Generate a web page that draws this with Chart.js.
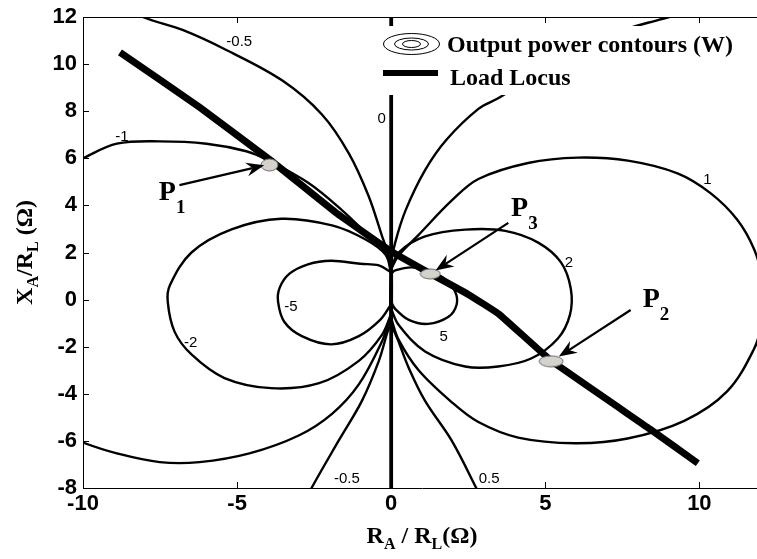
<!DOCTYPE html>
<html>
<head>
<meta charset="utf-8">
<script src="https://cdn.jsdelivr.net/npm/chart.js@4.4.1/dist/chart.umd.min.js"></script>
<style>
    html, body { margin: 0; padding: 0; background: #fff; overflow: hidden; }
    #wrap { width: 757px; height: 559px; overflow: hidden; }
</style>
</head>
<body>
<div id="wrap"><canvas id="chart" width="770" height="559"></canvas></div>
<script>
// axis ticks
const xTicks = [-10, -5, 0, 5, 10];
const yTicks = [-8, -6, -4, -2, 0, 2, 4, 6, 8, 10, 12];

// output power contours, traced as [R_A/R_L, X_A/R_L]
const contourLevels = ['-5', '-2', '-1', '-0.5', '0', '0.5', '1', '2', '5'];
const contourM5 = [[0,1.15],[-0.4,1.45],[-1.0,1.52],[-1.95,1.65],[-2.7,1.5],[-3.3,1.1],[-3.62,0.5],[-3.67,-0.1],[-3.47,-0.94],[-2.9,-1.55],[-1.95,-1.9],[-1.05,-1.55],[-0.35,-0.85],[0,-0.2]];
const contourM2 = [[0,1.1],[-0.18,1.9],[-0.83,2.55],[-1.92,3.15],[-3.57,3.43],[-5.18,2.98],[-6.48,2.0],[-7.18,0.61],[-7.25,-0.1],[-7.03,-1.36],[-6.48,-2.33],[-5.41,-3.33],[-3.9,-3.76],[-2.34,-3.55],[-1.05,-2.6],[-0.3,-1.5],[0,-0.6]];
const contourM1 = [[-10.6,5.6],[-10,6.0],[-8.9,6.62],[-7.51,6.72],[-5.99,6.62],[-4.7,6.3],[-4.0,5.92],[-2.67,4.94],[-1.6,3.8],[-0.73,2.71],[-0.18,2.0],[0,1.3],[0,-0.6],[-0.08,-0.94],[-0.3,-1.78],[-1.05,-3.6],[-1.92,-4.85],[-3.0,-5.77],[-4.6,-6.53],[-6.22,-6.9],[-7.51,-6.9],[-8.9,-6.53],[-10,-6.07],[-10.6,-5.7]];
const contourM05 = [[-9.2,12.8],[-8.06,12.0],[-6.77,11.45],[-5.35,10.6],[-3.53,9.3],[-2.24,7.85],[-1.37,6.2],[-0.73,4.39],[-0.3,2.71],[-0.08,1.87],[0,1.2],[0,-0.8],[-0.15,-1.5],[-0.4,-2.6],[-0.95,-4.3],[-1.7,-5.98],[-2.57,-7.97],[-2.75,-8.5]];
const contour0 = [[0,-8],[0,12]];
const contour05 = [[9.6,12.2],[8.6,11.85],[7.67,11.5],[6.6,10.9],[5.5,10.1],[4.5,9.4],[3.47,8.55],[2.83,8.1],[1.8,6.8],[1.1,5.5],[0.47,3.8],[0.13,2.42],[0,1.5],[0,-0.9],[0.24,-1.78],[0.57,-2.9],[1.1,-4.3],[1.96,-5.98],[2.76,-8.0],[2.9,-8.4]];
const contour1 = [[0,1.3],[0.24,1.87],[0.89,2.75],[1.96,4.2],[2.83,5.12],[4.44,5.8],[6.06,6.03],[7.68,5.9],[9.29,5.36],[10.36,4.52],[11.23,3.39],[11.78,2.13],[12.05,0.9],[12.1,0],[12.05,-0.9],[11.78,-2.08],[10.9,-3.9],[9.51,-5.15],[7.67,-5.9],[5.96,-6.1],[4.12,-5.86],[2.83,-5.2],[1.96,-4.35],[0.89,-3.0],[0.24,-1.7],[0,-0.8]];
const contour2 = [[0,1.3],[0.24,2.0],[1.1,2.68],[2.4,2.97],[3.7,2.92],[4.77,2.42],[5.51,1.58],[5.83,0.45],[5.8,-0.65],[5.41,-1.65],[4.54,-2.5],[3.47,-2.84],[2.4,-2.84],[1.1,-2.2],[0.24,-1.07],[0,-0.4]];
const contour5 = [[0,1.1],[0.13,1.24],[0.66,1.37],[1.2,1.24],[1.75,0.87],[2.08,0.32],[2.12,-0.23],[1.86,-0.73],[1.2,-1.03],[0.57,-0.86],[0.13,-0.39],[0,-0.1]];
const contourCurves = [contourM5, contourM2, contourM1, contourM05, contour0, contour05, contour1, contour2, contour5];

// inline contour labels
const contourLabels = ['-0.5', '-1', '0', '1', '2', '-5', '-2', '5', '-0.5', '0.5'];
const contourLabelAt = [[-4.93,10.95],[-8.74,6.9],[-0.31,7.67],[10.26,5.07],[5.77,1.54],[-3.25,-0.31],[-6.51,-1.82],[1.70,-1.57],[-1.44,-7.63],[3.18,-7.63]];

// load locus
const loadLocus = [[-8.8,10.5],[-6.2,8.15],[-3.9,5.9],[-1.8,3.7],[0,2.05],[1.28,1.1],[2.5,0.22],[3.5,-0.62],[5.2,-2.6],[8.4,-5.5],[9.95,-6.95]];

// operating points P1, P3, P2
const opNames = ['1', '3', '2'];
const opR = [-3.95, 1.27, 5.19];
const opX = [5.72, 1.09, -2.62];

// annotation arrows (tail -> head) and label anchors, data coords
const arrows = [
    { tail: [-6.87, 4.86], head: [-4.12, 5.70], label: [-7.54, 4.23] },
    { tail: [3.80, 3.26], head: [1.44, 1.24], label: [3.89, 3.55] },
    { tail: [7.77, -0.44], head: [5.44, -2.42], label: [8.16, -0.31] }
];

const SANS = 'Arial, "Liberation Sans", sans-serif';
const SERIF = '"Times New Roman", "Liberation Serif", serif';

function ellipseIcon(w, h) {
    const c = document.createElement('canvas');
    c.width = w + 2; c.height = h + 2;
    const g = c.getContext('2d');
    g.beginPath();
    g.ellipse(c.width / 2, c.height / 2, w / 2, h / 2, 0, 0, Math.PI * 2);
    g.fillStyle = '#d5d2cb';
    g.fill();
    g.strokeStyle = '#6a6a6a';
    g.lineWidth = 1;
    g.stroke();
    return c;
}
const opIcons = [ellipseIcon(17, 12), ellipseIcon(20, 10), ellipseIcon(24, 11)];

const toXY = pts => pts.map(p => ({ x: p[0], y: p[1] }));

const datasets = [];
datasets.push({
    label: 'points',
    data: opR.map((r, i) => ({ x: r, y: opX[i] })),
    pointStyle: opIcons,
    pointRadius: 8,
    showLine: false,
    order: 0
});
datasets.push({
    label: 'Load Locus',
    data: toXY(loadLocus),
    showLine: true,
    borderColor: '#000',
    borderWidth: 7,
    pointRadius: 0,
    tension: 0.1,
    clip: 0,
    order: 1
});
contourCurves.forEach((c, i) => {
    datasets.push({
        label: contourLevels[i],
        data: toXY(c),
        showLine: true,
        borderColor: '#000',
        borderWidth: contourLevels[i] === '0' ? 3.8 : 2.4,
        pointRadius: 0,
        tension: 0.35,
        clip: 0,
        order: 2
    });
});

function line(ctx, x0, y0, x1, y1) {
    ctx.beginPath(); ctx.moveTo(x0, y0); ctx.lineTo(x1, y1); ctx.stroke();
}

function drawArrow(ctx, x0, y0, x1, y1) {
    const ang = Math.atan2(y1 - y0, x1 - x0);
    const L = 18, W = 7, N = 12;
    ctx.lineWidth = 2.2;
    line(ctx, x0, y0, x1 - Math.cos(ang) * N, y1 - Math.sin(ang) * N);
    ctx.save();
    ctx.translate(x1, y1);
    ctx.rotate(ang);
    ctx.beginPath();
    ctx.moveTo(0, 0);
    ctx.lineTo(-L, -W);
    ctx.lineTo(-N, 0);
    ctx.lineTo(-L, W);
    ctx.closePath();
    ctx.fill();
    ctx.restore();
}

// text runs with subscripts: [text, size, dy]
function drawRuns(ctx, parts, x, y, center) {
    let total = 0;
    const widths = parts.map(p => {
        ctx.font = 'bold ' + p[1] + 'px ' + SERIF;
        const w = ctx.measureText(p[0]).width;
        total += w;
        return w;
    });
    let cx = center ? x - total / 2 : x;
    parts.forEach((p, i) => {
        ctx.font = 'bold ' + p[1] + 'px ' + SERIF;
        ctx.fillText(p[0], cx, y + p[2]);
        cx += widths[i];
    });
}

const decor = {
    id: 'decor',
    afterDatasetsDraw(chart) {
        const { ctx, chartArea: a, scales: { x, y } } = chart;
        ctx.save();
        ctx.strokeStyle = '#000';
        ctx.fillStyle = '#000';
        ctx.lineWidth = 1;

        // top border and inward ticks
        line(ctx, a.left, a.top + 0.5, a.right, a.top + 0.5);
        xTicks.forEach(v => {
            const px = Math.round(x.getPixelForValue(v)) + 0.5;
            line(ctx, px, a.bottom, px, a.bottom - 6);
            line(ctx, px, a.top, px, a.top + 6);
        });
        yTicks.forEach(v => {
            const py = Math.round(y.getPixelForValue(v)) + 0.5;
            line(ctx, a.left, py, a.left + 6, py);
        });

        // contour labels
        ctx.font = '15px ' + SANS;
        ctx.textAlign = 'center';
        ctx.textBaseline = 'middle';
        contourLabels.forEach((t, i) => {
            ctx.fillText(t, x.getPixelForValue(contourLabelAt[i][0]), y.getPixelForValue(contourLabelAt[i][1]));
        });

        // arrows and P labels
        ctx.textAlign = 'left';
        ctx.textBaseline = 'alphabetic';
        arrows.forEach((ar, i) => {
            drawArrow(ctx,
                x.getPixelForValue(ar.tail[0]), y.getPixelForValue(ar.tail[1]),
                x.getPixelForValue(ar.head[0]), y.getPixelForValue(ar.head[1]));
            drawRuns(ctx, [['P', 28, 0], [opNames[i], 19, 13]],
                x.getPixelForValue(ar.label[0]), y.getPixelForValue(ar.label[1]), false);
        });

        // legend
        ctx.fillStyle = '#fff';
        ctx.fillRect(381, 26, 364, 69);
        ctx.fillStyle = '#000';
        ctx.lineWidth = 1;
        [[28, 10.5], [17, 6], [9, 3.5]].forEach(e => {
            ctx.beginPath();
            ctx.ellipse(411.5, 44, e[0], e[1], 0, 0, Math.PI * 2);
            ctx.stroke();
        });
        ctx.lineWidth = 6;
        line(ctx, 383, 73, 438, 73);
        ctx.font = 'bold 24px ' + SERIF;
        ctx.fillText('Output power contours (W)', 447, 52);
        ctx.fillText('Load Locus', 450, 85);

        // axis titles
        const midX = (a.left + a.right) / 2;
        drawRuns(ctx, [['R', 24, 0], ['A', 16, 6], [' /', 24, 0], [' R', 24, 0], ['L', 16, 6], ['(\u03A9)', 24, 0]],
            midX, a.bottom + 55, true);
        ctx.save();
        ctx.translate(32, (a.top + a.bottom) / 2);
        ctx.rotate(-Math.PI / 2);
        drawRuns(ctx, [['X', 24, 0], ['A', 16, 6], ['/', 24, 0], ['R', 24, 0], ['L', 16, 6], [' (\u03A9)', 24, 0]],
            0, 0, true);
        ctx.restore();

        ctx.restore();
    }
};

const tickFont = { family: SANS, size: 22, weight: 'bold', lineHeight: 1 };

new Chart(document.getElementById('chart'), {
    type: 'scatter',
    data: { datasets: datasets },
    options: {
        responsive: false,
        devicePixelRatio: 1,
        animation: false,
        events: [],
        layout: { padding: { left: 0, top: 12, right: 6.4, bottom: 0 } },
        plugins: { legend: { display: false }, tooltip: { enabled: false } },
        scales: {
            x: {
                type: 'linear',
                min: -10,
                max: 12,
                grid: { display: false, drawTicks: false },
                border: { display: true, color: '#000', width: 1 },
                ticks: { font: tickFont, color: '#000', padding: 5, maxRotation: 0, autoSkip: false },
                afterBuildTicks: s => { s.ticks = xTicks.map(v => ({ value: v })); },
                afterFit: s => { s.height = 71; }
            },
            y: {
                type: 'linear',
                min: -8,
                max: 12,
                grid: { display: false, drawTicks: false },
                border: { display: true, color: '#000', width: 1 },
                ticks: { font: tickFont, color: '#000', padding: 6, autoSkip: false },
                afterBuildTicks: s => { s.ticks = yTicks.map(v => ({ value: v })); },
                afterFit: s => { s.width = 83; }
            }
        }
    },
    plugins: [decor]
});
</script>
</body>
</html>
